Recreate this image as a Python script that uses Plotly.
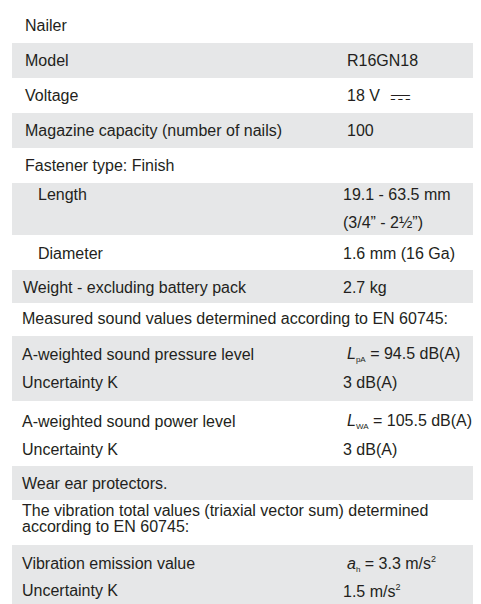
import plotly.graph_objects as go

# ---- table content ----
labels = [
    "Nailer",
    "Model",
    "Voltage",
    "Magazine capacity (number of nails)",
    "Fastener type: Finish",
    "Length",
    "Diameter",
    "Weight - excluding battery pack",
    "Measured sound values determined according to EN 60745:",
    "A-weighted sound pressure level",
    "Uncertainty K",
    "A-weighted sound power level",
    "Uncertainty K",
    "Wear ear protectors.",
    "The vibration total values (triaxial vector sum) determined<br>according to EN 60745:",
    "Vibration emission value",
    "Uncertainty K",
]
SUB = "<sub><span style='font-size:8px'>{}</span></sub>"
SUP = "<sup><span style='font-size:9px'>{}</span></sup>"
values = [
    "",
    "R16GN18",
    "18 V",
    "100",
    "",
    "19.1 - 63.5 mm<br>(3/4\u201d - 2\u00bd\u201d)",
    "1.6 mm (16 Ga)",
    "2.7 kg",
    "",
    "<i>L</i>" + SUB.format("pA") + " = 94.5 dB(A)",
    "3 dB(A)",
    "<i>L</i>" + SUB.format("WA") + " = 105.5 dB(A)",
    "3 dB(A)",
    "",
    "",
    "<i>a</i>" + SUB.format("h") + " = 3.3 m/s" + SUP.format("2"),
    "1.5 m/s" + SUP.format("2"),
]
dc_symbol = "\u2393"   # direct-current sign after the voltage
dc_row = 2

# ---- layout / style ----
band_of_row = [0, 1, 2, 3, 4, 5, 6, 7, 8, 9, 9, 10, 10, 11, 12, 13, 13]
band_heights = [35, 35, 35, 35, 35, 52, 35, 33, 33, 65, 65, 34, 45, 67]
band_shaded = [False, True, False, True, False, True, False, True, False,
               True, False, True, False, True]
label_x_row = [15, 15, 15, 15, 15, 28, 28, 13, 12, 12, 12, 12, 12, 12, 12, 12, 12]
value_x_row = [337, 337, 337, 337, 333, 333, 333, 333, 333, 337, 333, 337, 333, 333, 333, 337, 333]
row_nudge = [0, 0, 0, 0, 0, -1, 1, 1, -1, 0, 0, 2, 2, 0, -4, -1, -2]

W, H = 481, 604
GRAY = "#e6e7e8"
INK = "#231f20"
FONT = "Liberation Sans, Arial, Helvetica, sans-serif"
FS = 16
LINE = 28       # pitch of rows inside a shared band
WRAP_STEP = 16  # pitch of wrapped label lines

fig = go.Figure()
fig.add_trace(go.Scatter(x=[0, W], y=[0, H], mode="markers",
                         marker=dict(opacity=0), hoverinfo="skip", showlegend=False))

tops = []
acc = 0
for h in band_heights:
    tops.append(acc)
    acc += h

shapes = []
for b, (t, h) in enumerate(zip(tops, band_heights)):
    if band_shaded[b]:
        shapes.append(dict(type="rect", xref="x", yref="y", x0=4, x1=W,
                           y0=t, y1=t + h, fillcolor=GRAY, line=dict(width=0),
                           layer="below"))


def txt(x, y, s, size=FS):
    return dict(x=x, y=y, text=s, showarrow=False, xanchor="left", yanchor="middle",
                xref="x", yref="y", font=dict(family=FONT, size=size, color=INK))


annotations = []
for b in range(len(band_heights)):
    rows = [i for i, bb in enumerate(band_of_row) if bb == b]
    n = len(rows)
    center = tops[b] + band_heights[b] / 2
    for k, i in enumerate(rows):
        yc = center + (k - (n - 1) / 2) * LINE + row_nudge[i]
        lab_lines = labels[i].split("<br>")
        val_lines = [v for v in values[i].split("<br>") if v]
        if len(lab_lines) > 1:
            for j, s in enumerate(lab_lines):
                annotations.append(txt(label_x_row[i],
                                       yc + (j - (len(lab_lines) - 1) / 2) * WRAP_STEP, s))
        else:
            ly = yc - (len(val_lines) - 1) * LINE / 2 if len(val_lines) > 1 else yc
            annotations.append(txt(label_x_row[i], ly, labels[i]))
        for j, s in enumerate(val_lines):
            vy = yc + (j - (len(val_lines) - 1) / 2) * LINE
            annotations.append(txt(value_x_row[i], vy, s))
        if i == dc_row:
            annotations.append(txt(value_x_row[i] + 43, yc, dc_symbol, size=26))

fig.update_layout(
    width=W, height=H,
    margin=dict(l=0, r=0, t=0, b=0),
    paper_bgcolor="white", plot_bgcolor="white",
    xaxis=dict(range=[0, W], visible=False, fixedrange=True),
    yaxis=dict(range=[H, 0], visible=False, fixedrange=True),
    shapes=shapes, annotations=annotations,
    showlegend=False,
)

fig.write_html("out.html")
